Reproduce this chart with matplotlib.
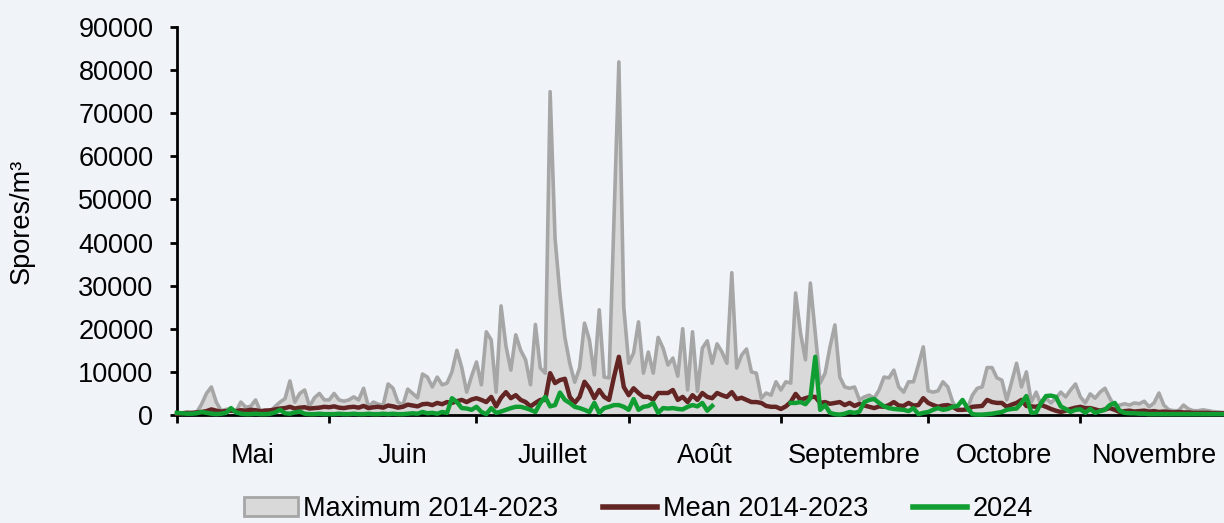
import matplotlib
matplotlib.use('Agg')
import matplotlib.pyplot as plt
from matplotlib.patches import Patch
from matplotlib.lines import Line2D
import numpy as np
import pandas as pd

plt.rcParams['font.family'] = ['Liberation Sans', 'DejaVu Sans']

# daily spore counts (thousands of spores/m3), 1 May -> 30 Nov
max_may = [0.3, 0.5, 0.6, 0.5, 0.6, 2.5, 5.0, 6.5, 3.0, 1.0, 1.3, 1.5, 0.8, 3.0, 1.8, 2.0,
           3.5, 0.8, 1.2, 0.7, 2.0, 3.0, 3.8, 7.9, 3.0, 5.0, 5.8, 2.0, 4.0, 5.0, 3.5]
max_jun = [3.5, 5.0, 3.5, 3.2, 3.5, 4.2, 3.5, 6.2, 1.9, 3.0, 2.5, 2.3, 7.2, 6.2, 3.0,
           2.3, 6.0, 5.0, 4.0, 9.5, 8.8, 6.5, 8.8, 7.0, 7.4, 10.0, 15.0, 11.0, 5.3, 9.0]
max_jul = [12.3, 7.0, 19.3, 17.4, 5.3, 25.3, 16.0, 10.4, 18.6, 15.0, 12.8, 7.0, 21.0, 10.9,
           9.7, 75.0, 41.0, 28.0, 18.0, 12.0, 7.6, 10.9, 21.3, 17.4, 9.3, 24.4, 8.8, 8.6,
           45.0, 81.9, 25.0]
max_aug = [12.0, 14.4, 21.6, 9.7, 14.6, 9.7, 18.0, 15.5, 11.6, 13.2, 9.0, 20.0, 5.8, 19.3,
           5.5, 15.5, 17.2, 12.0, 16.5, 14.6, 12.0, 33.0, 10.9, 13.9, 15.3, 10.0, 9.7, 3.9,
           5.1, 4.6, 7.7]
max_sep = [5.8, 7.7, 7.4, 28.3, 19.0, 12.8, 30.6, 19.0, 7.4, 9.7, 15.8, 20.9, 8.8, 6.5, 6.2,
           6.5, 3.5, 4.2, 4.6, 3.9, 5.8, 8.8, 8.6, 10.4, 6.5, 5.3, 7.7, 7.7, 11.6, 15.8]
max_oct = [5.6, 5.3, 5.6, 7.7, 6.5, 3.0, 1.2, 1.2, 1.5, 4.6, 6.2, 6.5, 11.0, 11.0, 8.6, 8.1,
           3.5, 7.7, 12.0, 6.5, 10.0, 3.0, 5.3, 2.3, 3.9, 2.8, 3.9, 5.3, 4.2, 5.8, 7.2]
max_nov = [4.2, 2.8, 4.9, 3.9, 5.3, 6.2, 3.9, 1.9, 2.3, 2.6, 2.3, 2.8, 2.6, 3.2, 1.9, 2.8,
           5.1, 2.3, 1.2, 1.0, 1.0, 2.3, 1.4, 1.0, 1.0, 1.2, 1.0, 0.8, 0.7, 0.6]

mean_may = [0.3, 0.4, 0.5, 0.5, 0.6, 0.7, 0.9, 1.3, 1.0, 0.8, 0.9, 1.0, 0.9, 1.1, 1.0, 1.2,
            1.1, 0.9, 1.0, 1.1, 1.3, 1.5, 1.6, 1.9, 1.5, 1.7, 1.8, 1.5, 1.6, 1.7, 1.9]
mean_jun = [1.8, 2.0, 1.7, 1.6, 1.8, 1.9, 1.7, 2.1, 1.6, 1.8, 1.9, 1.7, 2.2, 2.0, 1.7, 1.9,
            2.4, 2.2, 2.0, 2.5, 2.6, 2.3, 2.8, 2.5, 3.0, 2.8, 3.2, 3.5, 3.0, 3.6]
mean_jul = [3.9, 3.5, 3.0, 4.2, 2.0, 4.0, 5.3, 3.9, 4.6, 3.5, 3.0, 2.0, 2.8, 3.5, 3.5, 9.7,
            7.4, 8.1, 8.4, 4.2, 2.8, 4.2, 7.7, 6.2, 3.9, 5.8, 4.2, 3.5, 8.8, 13.5, 6.5]
mean_aug = [4.6, 6.2, 5.1, 4.2, 4.2, 3.5, 5.1, 5.1, 5.1, 5.8, 3.5, 4.2, 3.0, 4.6, 3.5, 5.1,
            4.2, 3.9, 5.1, 4.6, 4.2, 5.3, 3.7, 4.0, 3.5, 3.0, 3.0, 2.8, 2.1, 1.9, 1.9]
mean_sep = [1.4, 2.0, 3.0, 4.9, 3.5, 3.9, 4.2, 4.2, 2.8, 3.0, 2.6, 2.8, 3.0, 2.3, 2.8, 2.1,
            2.6, 2.2, 1.9, 1.6, 2.0, 1.9, 2.3, 3.0, 2.2, 2.1, 2.8, 2.2, 2.3, 3.9]
mean_oct = [2.8, 2.3, 1.9, 2.2, 2.3, 1.9, 1.2, 1.2, 1.3, 1.9, 2.0, 2.1, 3.5, 3.0, 2.8, 2.8,
            1.9, 2.4, 2.8, 3.5, 2.1, 2.0, 1.9, 2.3, 1.9, 1.4, 1.0, 0.7, 1.0, 1.4, 1.7]
mean_nov = [1.9, 1.6, 1.6, 1.3, 1.0, 1.3, 1.6, 1.2, 0.7, 0.9, 1.0, 0.8, 0.9, 1.0, 0.8, 0.9,
            0.7, 0.8, 0.7, 0.6, 0.7, 0.6, 0.6, 0.5, 0.5, 0.5, 0.5, 0.4, 0.4, 0.4]

y24_may = [0.5, 0.4, 0.3, 0.3, 0.4, 0.7, 0.5, 0.3, 0.2, 0.3, 0.5, 1.6, 0.6, 0.3, 0.2, 0.2,
           0.3, 0.2, 0.2, 0.3, 0.6, 1.2, 0.4, 0.3, 0.6, 0.8, 0.3, 0.2, 0.2, 0.3, 0.2]
y24_jun = [0.2, 0.2, 0.3, 0.2, 0.2, 0.3, 0.2, 0.2, 0.3, 0.2, 0.2, 0.3, 0.2, 0.3, 0.2, 0.2,
           0.3, 0.4, 0.3, 0.7, 0.4, 0.5, 0.3, 0.7, 0.5, 3.9, 3.0, 1.6, 1.5, 1.2]
y24_jul = [1.9, 0.7, 0.2, 1.6, 0.5, 0.8, 1.2, 1.6, 1.9, 1.9, 1.6, 1.2, 0.7, 2.8, 4.2, 2.0,
           2.3, 5.2, 3.5, 2.8, 1.9, 1.6, 1.2, 0.7, 2.8, 0.5, 1.6, 1.9, 2.3, 2.3, 1.9]
y24_aug = [1.2, 3.7, 1.2, 1.9, 2.1, 2.8, 0.5, 1.6, 1.5, 1.6, 1.4, 1.3, 1.9, 2.3, 2.0, 2.8,
           1.0, 2.1] + [None] * 13
y24_sep = [None, None, 2.8, 2.8, 3.0, 2.5, 3.9, 13.5, 1.2, 2.3, 0.5, 0.2, 0.1, 0.3, 0.7,
           0.5, 0.8, 3.0, 3.5, 3.7, 2.8, 2.0, 1.6, 1.4, 1.3, 1.2, 0.9, 1.6, 0.2, 0.5]
y24_oct = [0.7, 1.2, 1.6, 1.2, 1.4, 1.9, 2.1, 3.5, 1.6, 0.2, 0.1, 0.1, 0.2, 0.3, 0.5, 0.7,
           1.2, 1.4, 1.5, 2.8, 4.4, 0.5, 0.6, 2.8, 4.4, 4.5, 4.2, 2.0, 1.4, 0.7, 1.2]
y24_nov = [1.3, 0.5, 1.4, 0.5, 0.9, 1.2, 2.3, 2.8, 1.0, 0.5, 0.4, 0.4, 0.3, 0.3, 0.2, 0.2,
           0.2, 0.2, 0.2, 0.2, 0.2, 0.2, 0.2, 0.2, 0.2, 0.2, 0.2, 0.2, 0.2, 0.2]

month_names = ['Mai', 'Juin', 'Juillet', 'Août', 'Septembre', 'Octobre', 'Novembre']
y_ticks = [0, 10000, 20000, 30000, 40000, 50000, 60000, 70000, 80000, 90000]

days = pd.date_range('2024-05-01', '2024-11-30', freq='D')
max_vals = np.array(max_may + max_jun + max_jul + max_aug + max_sep + max_oct + max_nov) * 1000
mean_vals = np.array(mean_may + mean_jun + mean_jul + mean_aug + mean_sep + mean_oct + mean_nov) * 1000
y24_vals = np.array(y24_may + y24_jun + y24_jul + y24_aug + y24_sep + y24_oct + y24_nov,
                    dtype=float) * 1000

bg = '#F0F4F9'
c_fill = '#D9D9D9'
c_max = '#A6A6A6'
c_mean = '#632523'
c_2024 = '#109E33'

fig = plt.figure(figsize=(12.24, 5.23), dpi=100, facecolor=bg)
ax = fig.add_axes([177 / 1224, 108 / 523, 1 - 177 / 1224, 388 / 523], facecolor=bg)

ax.fill_between(days, 0, max_vals, color=c_fill, lw=0, zorder=1)
ax.plot(days, max_vals, color=c_max, lw=2.6, solid_joinstyle='round', zorder=2)
ax.plot(days, mean_vals, color=c_mean, lw=3.2, solid_joinstyle='round', zorder=3,
        clip_on=False)
ax.plot(days, y24_vals, color=c_2024, lw=3.2, solid_joinstyle='round', zorder=4,
        clip_on=False)

ax.set_xlim(days[0], days[-1] + pd.Timedelta(hours=6))
ax.set_ylim(0, 90000)

for s in ['top', 'right']:
    ax.spines[s].set_visible(False)
for s in ['left', 'bottom']:
    ax.spines[s].set_linewidth(2)
    ax.spines[s].set_color('black')

ax.set_yticks(y_ticks)
ax.set_yticklabels([str(v) for v in y_ticks])
ax.tick_params(axis='y', length=5, width=2, pad=12, labelsize=19.5)

# month boundaries as ticks, month names centred between them
starts = pd.date_range('2024-05-01', '2024-12-01', freq='MS')
mids = starts[:-1] + (starts[1:] - starts[:-1]) / 2
ax.set_xticks(starts[:-1])
ax.set_xticklabels([])
ax.set_xticks(mids, minor=True)
ax.set_xticklabels(month_names, minor=True)
ax.tick_params(axis='x', which='major', length=6, width=2)
ax.tick_params(axis='x', which='minor', length=0, pad=20, labelsize=19.5)

fig.text(22 / 1224, 1 - 221 / 523, 'Spores/m³', rotation=90, ha='center', va='center',
         fontsize=19.5)

handles = [Patch(facecolor=c_fill, edgecolor=c_max, linewidth=2),
           Line2D([], [], color=c_mean, lw=4),
           Line2D([], [], color=c_2024, lw=4)]
fig.legend(handles, ['Maximum 2014-2023', 'Mean 2014-2023', '2024'],
           loc='center', bbox_to_anchor=(638 / 1224, 1 - 509 / 523), ncol=3,
           frameon=False, fontsize=19.5, handlelength=2.0, handletextpad=0.2,
           columnspacing=1.65, borderpad=0)

fig.savefig('out.png', dpi=100, facecolor=bg)
